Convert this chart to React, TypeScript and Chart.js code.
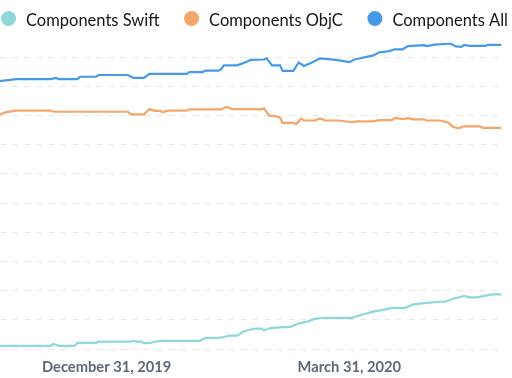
import React, { useEffect, useRef } from "react";
import { Chart, registerables } from "chart.js";

Chart.register(...registerables);

// Days are counted from December 31, 2019 (day 0)
const seriesNames = ["Components Swift", "Components ObjC", "Components All"];
const seriesColors = ["#8fd7d9", "#f4a56a", "#4599e6"];

const swiftDays = [-40, -21, -20, -18, -12, -11, -4, -3, 9, 10, 11, 13, 14, 16, 18, 20, 35, 37, 42, 44, 46, 49, 51, 53, 56, 58, 59, 61, 65, 69, 72, 75, 78, 81, 92, 94, 97, 100, 104, 107, 112, 115, 119, 121, 125, 127, 130, 134, 136, 139, 142, 145, 148];
const swiftValues = [11, 11, 17, 11, 11, 21, 21, 25, 25, 28, 25, 25, 20, 20, 25, 28, 28, 38, 38, 41, 46, 46, 58, 65, 70, 70, 64, 71, 74, 76, 88, 93, 103, 107, 107, 113, 121, 128, 135, 141, 141, 153, 157, 159, 162, 162, 172, 182, 177, 177, 183, 187, 187];

const objcDays = [-40, -38, -34, -21, -20, 8, 9, 14, 16, 18, 20, 21, 23, 30, 31, 43, 45, 47, 56, 58, 59, 61, 63, 65, 66, 70, 71, 73, 74, 78, 80, 82, 87, 92, 94, 100, 102, 107, 108, 111, 113, 115, 119, 120, 125, 128, 130, 132, 134, 140, 141, 148];
const objcValues = [804, 811, 817, 817, 813, 813, 804, 804, 822, 816, 816, 812, 817, 817, 821, 821, 830, 822, 822, 821, 825, 799, 799, 793, 775, 775, 770, 790, 783, 783, 790, 783, 783, 777, 780, 780, 784, 784, 792, 788, 791, 787, 787, 783, 783, 776, 761, 756, 763, 763, 758, 758];

const allDays = [-40, -34, -21, -19, -18, -11, -10, -4, -3, 8, 10, 14, 16, 30, 31, 36, 37, 42, 43, 44, 49, 53, 54, 59, 60, 62, 65, 66, 70, 72, 74, 77, 80, 86, 91, 93, 100, 102, 106, 108, 111, 113, 119, 120, 123, 128, 129, 131, 133, 134, 136, 142, 143, 148];
const allValues = [918, 925, 925, 929, 925, 925, 933, 933, 939, 939, 929, 929, 943, 943, 949, 949, 954, 954, 960, 972, 972, 986, 991, 992, 996, 972, 972, 953, 953, 982, 970, 982, 996, 991, 983, 992, 1006, 1016, 1021, 1027, 1027, 1038, 1041, 1038, 1043, 1046, 1046, 1037, 1035, 1042, 1039, 1039, 1042, 1042];

const tickDays = [0, 91];
const tickLabels = ["December 31, 2019", "March 31, 2020"];

const toPoints = (days: number[], values: number[]) =>
  days.map((d, i) => ({ x: d, y: values[i] }));

const LEGEND_FONT = "16.5px Lato";
const LEGEND_RADIUS = 7.5;
const LEGEND_TEXT_GAP = 17.5; // circle centre -> text start
const LEGEND_ITEM_GAP = 32; // text end -> next circle centre
const LEGEND_CENTER_X = 254.5;
const LEGEND_CIRCLE_Y = 18.5;
const LEGEND_BASELINE = 26;

const circleLegend = {
  id: "circleLegend",
  afterDraw(chart: any) {
    const ctx = chart.ctx;
    ctx.save();
    ctx.font = LEGEND_FONT;
    const items = chart.data.datasets.map((ds: any) => ({
      text: ds.label as string,
      color: ds.borderColor as string,
      width: ctx.measureText(ds.label).width as number,
    }));
    let total = LEGEND_RADIUS;
    items.forEach((it: any, i: number) => {
      total += LEGEND_TEXT_GAP + it.width;
      if (i < items.length - 1) total += LEGEND_ITEM_GAP;
    });
    let cx = LEGEND_CENTER_X - total / 2 + LEGEND_RADIUS;
    items.forEach((it: any) => {
      ctx.beginPath();
      ctx.fillStyle = it.color;
      ctx.arc(cx, LEGEND_CIRCLE_Y, LEGEND_RADIUS, 0, Math.PI * 2);
      ctx.fill();
      ctx.fillStyle = "#161616";
      ctx.textBaseline = "alphabetic";
      ctx.textAlign = "left";
      ctx.fillText(it.text, cx + LEGEND_TEXT_GAP, LEGEND_BASELINE);
      cx += LEGEND_TEXT_GAP + it.width + LEGEND_ITEM_GAP;
    });
    ctx.restore();
  },
};

export default function App() {
  const canvasRef = useRef<HTMLCanvasElement | null>(null);

  useEffect(() => {
    const canvas = canvasRef.current;
    if (!canvas) return;
    const seriesData = [
      toPoints(swiftDays, swiftValues),
      toPoints(objcDays, objcValues),
      toPoints(allDays, allValues),
    ];
    const chart = new Chart(canvas, {
      type: "line",
      data: {
        datasets: seriesNames.map((name, i) => ({
          label: name,
          data: seriesData[i],
          borderColor: seriesColors[i],
          backgroundColor: seriesColors[i],
          borderWidth: 2.2,
          pointRadius: 0,
          tension: 0,
          fill: false,
        })),
      },
      plugins: [circleLegend],
      options: {
        animation: false,
        responsive: false,
        layout: { padding: { left: 0, right: 8, top: 28, bottom: 0 } },
        plugins: {
          tooltip: { enabled: false },
          legend: { display: false },
        },
        scales: {
          x: {
            type: "linear",
            min: -40,
            max: 149,
            grid: { display: false, drawTicks: false },
            border: { display: false },
            afterBuildTicks: (axis: any) => {
              axis.ticks = tickDays.map((v) => ({ value: v }));
            },
            afterFit: (axis: any) => {
              axis.height = 29;
            },
            ticks: {
              autoSkip: false,
              maxRotation: 0,
              padding: 9,
              color: "#5d6976",
              font: { family: "Lato", size: 14.7, weight: "bold" },
              callback: (value: any) => {
                const idx = tickDays.indexOf(Number(value));
                return idx >= 0 ? tickLabels[idx] : "";
              },
            },
          },
          y: {
            type: "linear",
            min: 0,
            max: 1100,
            ticks: { display: false, stepSize: 100 },
            grid: {
              drawTicks: false,
              lineWidth: 1,
              color: (ctx: any) =>
                ctx.tick && ctx.tick.value > 1000 ? "rgba(0,0,0,0)" : "#e8e8e8",
            },
            border: { display: false, dash: [6, 6] },
          },
        },
      },
    });
    return () => chart.destroy();
  }, []);

  return (
    <div style={{ position: "absolute", left: 0, top: 0, width: 512, height: 378 }}>
      <canvas ref={canvasRef} width={512} height={378} />
    </div>
  );
}
